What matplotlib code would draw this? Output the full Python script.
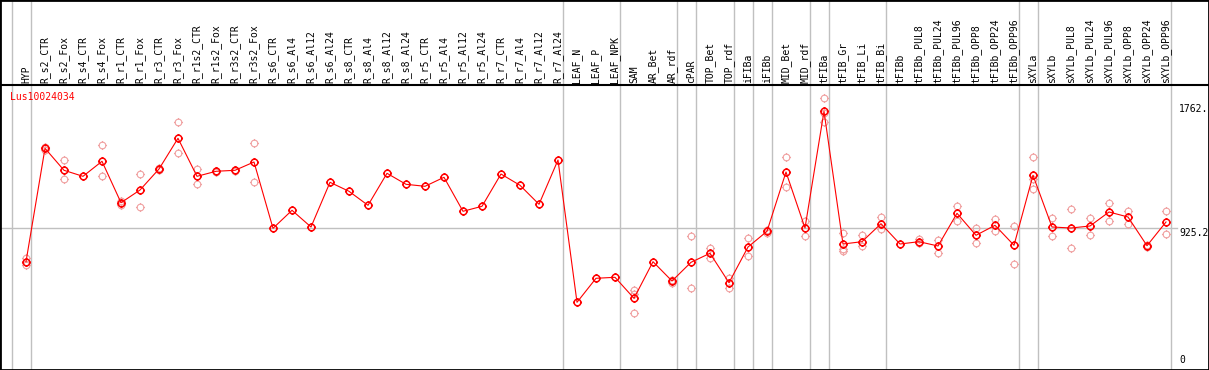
import matplotlib
matplotlib.use("Agg")
import matplotlib.pyplot as plt
from matplotlib.path import Path

# sample groups (columns)
samples = ["HYP", "R_s2_CTR", "R_s2_Fox", "R_s4_CTR", "R_s4_Fox", "R_r1_CTR", "R_r1_Fox",
           "R_r3_CTR", "R_r3_Fox", "R_r1s2_CTR", "R_r1s2_Fox", "R_r3s2_CTR", "R_r3s2_Fox",
           "R_s6_CTR", "R_s6_Al4", "R_s6_Al12", "R_s6_Al24", "R_s8_CTR", "R_s8_Al4",
           "R_s8_Al12", "R_s8_Al24", "R_r5_CTR", "R_r5_Al4", "R_r5_Al12", "R_r5_Al24",
           "R_r7_CTR", "R_r7_Al4", "R_r7_Al12", "R_r7_Al24", "LEAF_N", "LEAF_P", "LEAF_NPK",
           "SAM", "AR_Bet", "AR_rdf", "cPAR", "TOP_Bet", "TOP_rdf", "iFIBa", "iFIBb",
           "MID_Bet", "MID_rdf", "tFIBa", "tFIB_Gr", "tFIB_Li", "tFIB_Bi", "tFIBb",
           "tFIBb_PUL8", "tFIBb_PUL24", "tFIBb_PUL96", "tFIBb_OPP8", "tFIBb_OPP24",
           "tFIBb_OPP96", "sXYLa", "sXYLb", "sXYLb_PUL8", "sXYLb_PUL24", "sXYLb_PUL96",
           "sXYLb_OPP8", "sXYLb_OPP24", "sXYLb_OPP96"]

# mean expression per sample
means = [699.8, 1465, 1316.6, 1276, 1377.4, 1098, 1183.7, 1325.4, 1532.6, 1276, 1309.9,
         1316.6, 1372.6, 925.2, 1046.7, 934, 1235.6, 1174.9, 1080.4, 1296.4, 1222.1, 1208.6,
         1269.4, 1040, 1073.7, 1291.6, 1215.4, 1087.2, 1386.1, 425.8, 587.8, 594.5, 452.8,
         699.8, 569.6, 695.7, 756.5, 558.1, 799, 905, 1305, 927.2, 1714.8, 819.2, 834.8,
         956.2, 819.2, 834.8, 805.8, 1026.4, 878, 945.4, 810.5, 1282.9, 934, 927.2, 940.7,
         1035.2, 1001.5, 807.8, 967.7]

# replicate values per sample
reps = [[722, 677, 700], [1475, 1455], [1384, 1256], [], [1485, 1276], [1109, 1082],
        [1290, 1067], [1335, 1318], [1640, 1431], [1325, 1222], [1315, 1305], [1322, 1310],
        [1499, 1236], [], [], [], [], [], [], [], [], [], [], [], [], [], [], [], [],
        [], [], [], [509, 352, 480], [], [554, 575], [873, 520], [792, 727], [588, 524],
        [860, 740], [915, 895], [1404, 1202], [975, 873], [1804, 1645, 1700],
        [891, 784, 770], [880, 806], [1002, 922], [], [853, 824], [846, 760], [1076, 976],
        [927, 828], [990, 909], [941, 682], [1404, 1256, 1188], [995, 873], [1055, 790],
        [993, 880], [1094, 975], [1044, 956], [815, 800], [1042, 887]]

# group separators come after these columns
breaks = [-1, 0, 28, 31, 34, 35, 37, 38, 39, 41, 42, 45, 52, 53, 60]
gene = "Lus10024034"
ytick_vals = [1762, 925.2, 0]
ytick_text = ["1762.", "925.2", "0"]

font = "DejaVu Sans Mono"
fs = 7

# circle marker with small ticks
circ = Path.unit_circle()
ticks = Path([(0, 1), (0, 1.35), (0, -1), (0, -1.35), (1, 0), (1.35, 0), (-1, 0), (-1.35, 0)],
             [Path.MOVETO, Path.LINETO] * 4)
mk = Path.make_compound_path(circ, ticks)

fig = plt.figure(figsize=(12.09, 3.70), dpi=100)
ax = fig.add_axes([0, 0, 1, 1])
ax.set_xlim(-26 / 19, (1209 - 26) / 19)
ax.set_ylim(-31.1, 2465.9)
ax.set_xticks([])
ax.set_yticks([])
for s in ax.spines.values():
    s.set_linewidth(2)
    s.set_color("black")

xs = list(range(len(samples)))

# separators, through the label area too
for b in breaks:
    ax.axvline(b + 0.25, color="#c0c0c0", lw=1, zorder=1)

# header separator line
ax.plot([0, 1], [1 - 85 / 370] * 2, transform=ax.transAxes, color="black", lw=1.5,
        zorder=3)

# middle reference line
ax.plot([ax.get_xlim()[0], 60.6], [925.2, 925.2], color="#c0c0c0", lw=1, zorder=1)

# replicates
for i, r in enumerate(reps):
    if r:
        ax.plot([i] * len(r), r, linestyle="none", marker=mk, markersize=6.5,
                markerfacecolor="none", markeredgecolor="#f0a0a0", markeredgewidth=0.8,
                zorder=2)

# mean line
ax.plot(xs, means, color="red", lw=0.8, marker=mk, markersize=6.5,
        markerfacecolor="none", markeredgecolor="red", markeredgewidth=1.1, zorder=4)

# sample labels
trans = ax.get_xaxis_transform()
for i, name in enumerate(samples):
    ax.text(i, 1 - 83 / 370, name, rotation=90, ha="center", va="bottom",
            transform=trans, fontsize=fs, family=font, color="black")

ax.text(-16 / 19, 1 - 92 / 370, gene, transform=trans, ha="left", va="top",
        fontsize=fs, family=font, color="red")

# value labels on the right
xl = (1179 - 26) / 19
for v, t in zip(ytick_vals, ytick_text):
    ax.text(xl, v, t, ha="left", va="bottom" if v == 0 else "top", fontsize=fs,
            family=font, color="black")

fig.savefig("out.png", dpi=100)
